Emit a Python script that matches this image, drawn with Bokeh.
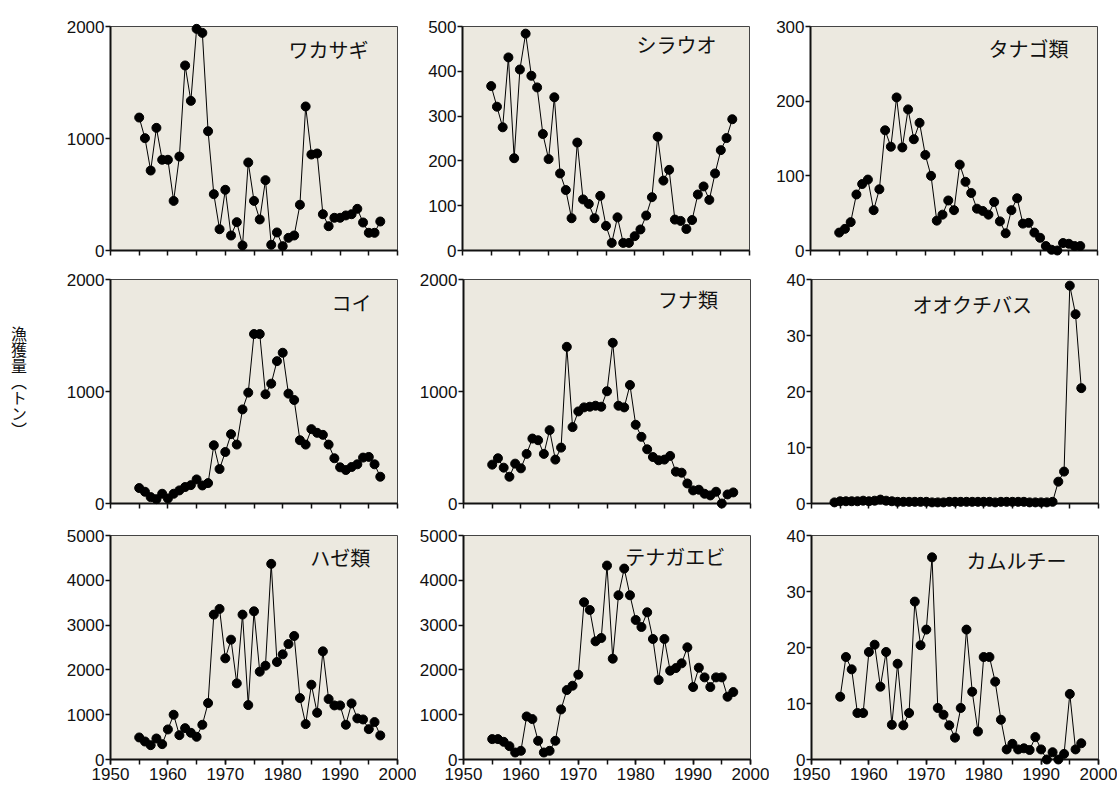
from bokeh.plotting import figure
from bokeh.layouts import row, column
from bokeh.models import Range1d, FixedTicker, Label, Div
from bokeh.embed import file_html
from bokeh.resources import INLINE

# ---------------- data ----------------
years = list(range(1955, 1998))
years_bass = list(range(1954, 1998))

wakasagi = [1187, 1003, 714, 1095, 810, 810, 443, 839, 1652, 1336, 1979, 1943, 1065, 503, 190,
            542, 134, 253, 45, 786, 443, 277, 628, 51, 161, 39, 113, 134, 408, 1286, 857, 866,
            324, 217, 292, 292, 313, 324, 372, 250, 158, 158, 259]
shirauo = [367, 321, 275, 431, 206, 404, 484, 390, 364, 260, 204, 342, 172, 135, 72, 241, 114,
           104, 72, 122, 55, 17, 74, 17, 17, 32, 47, 78, 119, 254, 156, 180, 69, 66, 48, 68, 125,
           143, 113, 172, 224, 251, 293]
tanago = [24, 29, 38, 75, 89, 95, 54, 82, 161, 139, 205, 138, 189, 149, 171, 128, 100, 40, 48, 67,
          54, 115, 92, 77, 56, 53, 48, 65, 39, 23, 54, 70, 36, 37, 24, 17, 6, 1, 0, 10, 9, 6, 6]
koi = [138, 105, 57, 39, 87, 45, 87, 117, 147, 164, 215, 161, 182, 520, 308, 460, 619, 526, 840,
       990, 1513, 1513, 975, 1070, 1271, 1346, 981, 924, 565, 526, 664, 631, 613, 526, 404, 323,
       299, 326, 350, 410, 416, 350, 239]
funa = [347, 404, 320, 239, 356, 314, 443, 580, 565, 443, 655, 392, 499, 1399, 682, 822, 858, 864,
        873, 864, 1002, 1435, 873, 858, 1058, 703, 595, 484, 415, 386, 392, 425, 284, 275, 179,
        117, 123, 87, 72, 105, 0, 81, 99]
bass = [0.2, 0.4, 0.4, 0.4, 0.4, 0.5, 0.4, 0.5, 0.7, 0.5, 0.4, 0.3, 0.3, 0.3, 0.3, 0.3, 0.3, 0.2,
        0.2, 0.2, 0.3, 0.3, 0.3, 0.3, 0.3, 0.3, 0.3, 0.3, 0.2, 0.3, 0.3, 0.3, 0.3, 0.3, 0.2, 0.2,
        0.2, 0.2, 0.3, 3.9, 5.7, 38.9, 33.8, 20.6]
haze = [492, 402, 320, 469, 343, 671, 999, 544, 700, 596, 507, 775, 1259, 3234, 3361, 2258, 2675,
        1699, 3234, 1215, 3308, 1960, 2094, 4367, 2176, 2347, 2578, 2757, 1371, 790, 1669, 1043,
        2414, 1349, 1207, 1207, 775, 1252, 917, 894, 678, 835, 537]
tenaga = [455, 455, 395, 298, 156, 194, 961, 902, 417, 156, 194, 417, 1118, 1550, 1647, 1893,
          3510, 3338, 2638, 2712, 4329, 2250, 3666, 4262, 3666, 3115, 2958, 3286, 2690, 1773, 2690,
          1982, 2041, 2146, 2504, 1617, 2049, 1833, 1617, 1833, 1833, 1401, 1505]
kamuru = [11.2, 18.3, 16.1, 8.3, 8.3, 19.2, 20.5, 13.0, 19.2, 6.2, 17.1, 6.1, 8.3, 28.2, 20.4,
          23.2, 36.1, 9.2, 8.0, 6.1, 3.9, 9.2, 23.2, 12.1, 5.0, 18.3, 18.3, 13.9, 7.1, 1.8, 2.8,
          1.8, 2.0, 1.7, 4.0, 1.8, 0, 1.3, 0, 1.0, 11.7, 1.8, 2.9]

titles = ["ワカサギ", "シラウオ", "タナゴ類", "コイ", "フナ類", "オオクチバス", "ハゼ類", "テナガエビ", "カムルチー"]
y_ticks = [[0, 1000, 2000], [0, 100, 200, 300, 400, 500], [0, 100, 200, 300],
           [0, 1000, 2000], [0, 1000, 2000], [0, 10, 20, 30, 40],
           [0, 1000, 2000, 3000, 4000, 5000], [0, 1000, 2000, 3000, 4000, 5000], [0, 10, 20, 30, 40]]
x_label_ticks = [1950, 1960, 1970, 1980, 1990, 2000]
x_all_ticks = [1950, 1955, 1960, 1965, 1970, 1975, 1980, 1985, 1990, 1995, 2000]
y_label = "漁獲量（トン）"

series = [(years, wakasagi), (years, shirauo), (years, tanago),
          (years, koi), (years, funa), (years_bass, bass),
          (years, haze), (years, tenaga), (years, kamuru)]

# ---------------- layout / style ----------------
title_pos = [(1981.0, 0.897), (1980.3, 0.92), (1981.0, 0.90),
             (1988.5, 0.897), (1983.9, 0.91), (1967.6, 0.888),
             (1984.8, 0.90), (1978.2, 0.906), (1977.0, 0.888)]
col_border = [(50, 19), (46, 19), (42, 19)]
row_border = [(26, 13), (16, 16), (16, 28)]
FW, FH = 287, 224
LEFT_W = 60
TICK_FONT = "Liberation Sans"
BG = "#ECE9E0"
INK = "#111111"

figs = []
for i, (xs, ys) in enumerate(series):
    r, c = divmod(i, 3)
    ymax = y_ticks[i][-1]
    p = figure(frame_width=FW, frame_height=FH, output_backend="svg", toolbar_location=None,
               x_range=Range1d(1950, 2000), y_range=Range1d(0, ymax),
               min_border_left=col_border[c][0], min_border_right=col_border[c][1],
               min_border_top=row_border[r][0], min_border_bottom=row_border[r][1],
               background_fill_color=BG, border_fill_color="white")
    p.xgrid.visible = False
    p.ygrid.visible = False
    p.outline_line_color = "#444444"
    p.outline_line_width = 1

    for ax in (p.xaxis[0], p.yaxis[0]):
        ax.axis_line_color = INK
        ax.axis_line_width = 2
        ax.major_tick_line_color = INK
        ax.major_tick_line_width = 1.5
        ax.minor_tick_line_color = INK
        ax.minor_tick_line_width = 1.5
        ax.major_tick_in = 0
        ax.minor_tick_in = 0
        ax.major_label_text_font = TICK_FONT
        ax.major_label_text_font_size = "17px"
        ax.major_label_text_color = INK

    p.xaxis.major_tick_out = 5
    p.xaxis.minor_tick_out = 5
    p.yaxis.major_tick_out = 5
    if r == 2:
        p.xaxis.ticker = FixedTicker(ticks=x_label_ticks, minor_ticks=x_all_ticks)
    else:
        p.xaxis.ticker = FixedTicker(ticks=[], minor_ticks=x_all_ticks)
    p.xaxis.major_label_standoff = 3
    p.yaxis.ticker = FixedTicker(ticks=y_ticks[i], minor_ticks=[])
    p.yaxis.major_label_standoff = 1

    ln = p.line(xs, ys, line_color="black", line_width=1)
    sc = p.scatter(xs, ys, size=9, fill_color="black", line_color="black")
    ln.level = "overlay"
    sc.level = "overlay"

    tx, tf = title_pos[i]
    p.add_layout(Label(x=tx, y=tf * ymax, text=titles[i], text_font="Noto Sans CJK JP",
                       text_font_size="20px", text_color=INK,
                       text_baseline="middle", text_align="left"))
    figs.append(p)

total_h = sum(b[0] + b[1] + FH for b in row_border)
ylab_html = ('<div style="writing-mode: vertical-rl; text-orientation: mixed; '
             'font-family: \'Noto Sans CJK JP\', sans-serif; font-size: 16px; line-height: 22px; '
             'color: #111111; margin-left: 8px; margin-top: 326px;">'
             + y_label + '</div>')
ylab = Div(text=ylab_html, width=LEFT_W, height=total_h, margin=0)

grid = column(row(figs[0], figs[1], figs[2]),
              row(figs[3], figs[4], figs[5]),
              row(figs[6], figs[7], figs[8]))
layout = row(ylab, grid)

open("out.html", "w").write(file_html(layout, INLINE))
